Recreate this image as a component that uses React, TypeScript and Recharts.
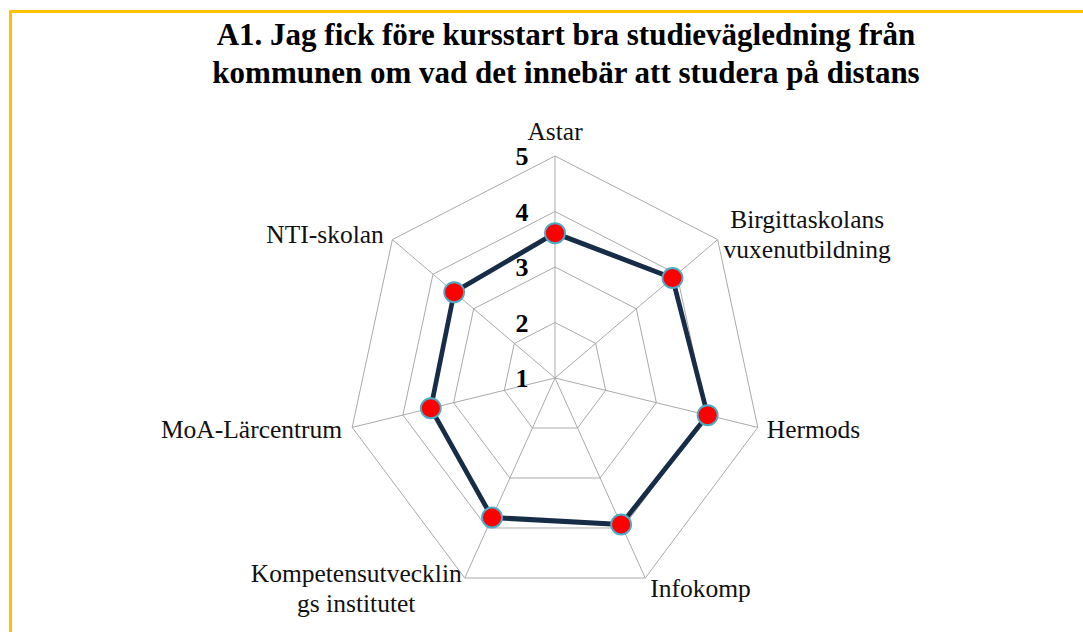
import React from "react";
import { RadarChart, Radar, PolarGrid, PolarAngleAxis, PolarRadiusAxis } from "recharts";

const categories = [
  "Astar",
  "Birgittaskolans vuxenutbildning",
  "Hermods",
  "Infokomp",
  "Kompetensutvecklings institutet",
  "MoA-Lärcentrum",
  "NTI-skolan",
];
const tickLabels = [
  ["Astar"],
  ["Birgittaskolans", "vuxenutbildning"],
  ["Hermods"],
  ["Infokomp"],
  ["Kompetensutvecklin", "gs institutet"],
  ["MoA-Lärcentrum"],
  ["NTI-skolan"],
];
const values = [3.61, 3.89, 4.01, 3.93, 3.79, 3.45, 3.48];
const radiusTicks = [1, 2, 3, 4, 5];
const titleLines = [
  "A1. Jag fick före kursstart bra studievägledning från",
  "kommunen om vad det innebär att studera på distans",
];

const data = categories.map((name, i) => ({ name, value: values[i] }));

const SX = 0.937;
const CX = 555 / SX;
const CY = 378;
const R = 222;
const FONT = '"Liberation Serif", "Times New Roman", serif';
const FS = 25.5;
const LH = 30;

let ctx: CanvasRenderingContext2D | null = null;
function measure(t: string): number {
  if (typeof document === "undefined") return t.length * FS * 0.45;
  if (!ctx) ctx = document.createElement("canvas").getContext("2d");
  if (!ctx) return t.length * FS * 0.45;
  ctx.font = `${FS}px "Liberation Serif"`;
  return ctx.measureText(t).width;
}

function AngleTick(props: any) {
  const { payload } = props;
  const idx = payload.index ?? categories.indexOf(payload.value);
  const ang = payload.coordinate;
  const rad = (-ang * Math.PI) / 180;
  const ux = Math.cos(rad);
  const uy = Math.sin(rad);
  const vx = CX + ux * R;
  const vy = CY + uy * R;
  const up = -uy;
  const lines: string[] = tickLabels[idx] || [String(payload.value)];
  let anchor: "start" | "end" | "middle" = "middle";
  let dxs = 0;
  let centerDy = 0;
  if (Math.abs(ux) < 0.1) {
    anchor = "middle";
    centerDy = up > 0 ? -25 : 12;
  } else if (up < -0.8) {
    anchor = ux > 0 ? "start" : "end";
    dxs = ux > 0 ? 5 : -3;
    centerDy = 10;
  } else {
    anchor = ux > 0 ? "start" : "end";
    dxs = ux > 0 ? (up > 0 ? 6 : 9) : up > 0 ? -8.5 : -10;
    centerDy = -8 * up;
  }
  const n = lines.length;
  let xPos = dxs;
  let ta: "start" | "end" | "middle" = anchor;
  if (n > 1 && anchor !== "middle") {
    const w = Math.max(...lines.map(measure));
    xPos = anchor === "start" ? dxs + w / 2 : dxs - w / 2;
    ta = "middle";
  }
  return (
    <g transform={`translate(${vx},${vy}) scale(${1 / SX},1)`}>
      {lines.map((l, i) => (
        <text
          key={i}
          x={xPos}
          y={centerDy + (i - (n - 1) / 2) * LH + FS * 0.34}
          textAnchor={ta}
          fontFamily={FONT}
          fontSize={FS}
          fill="#111"
        >
          {l}
        </text>
      ))}
    </g>
  );
}

function RadiusTick(props: any) {
  const { x, y, payload } = props;
  return (
    <g transform={`translate(${x},${y}) scale(${1 / SX},1)`}>
      <text
        x={-33}
        y={9}
        textAnchor="middle"
        fontFamily={FONT}
        fontWeight="bold"
        fontSize={26}
        fill="#000"
      >
        {payload.value}
      </text>
    </g>
  );
}

function Dot(props: any) {
  const { cx, cy } = props;
  if (cx == null || cy == null) return <g />;
  return (
    <ellipse
      cx={cx}
      cy={cy}
      rx={10 / SX}
      ry={10}
      fill="#FF0000"
      stroke="#4BACC6"
      strokeWidth={2}
    />
  );
}

export default function App() {
  return (
    <div
      style={{
        position: "absolute",
        left: 0,
        top: 0,
        width: 1083,
        height: 632,
        overflow: "hidden",
        background: "#fff",
      }}
    >
      <div
        style={{
          position: "absolute",
          left: 9,
          top: 10,
          width: 1200,
          height: 800,
          borderTop: "3px solid #FFC000",
          borderLeft: "3px solid #FFC000",
        }}
      />
      <div
        style={{
          position: "absolute",
          left: 0,
          top: 0,
          width: 1083 / SX,
          height: 632,
          transform: `scaleX(${SX})`,
          transformOrigin: "0 0",
        }}
      >
        <RadarChart
          width={Math.ceil(1083 / SX)}
          height={632}
          data={data}
          cx={CX}
          cy={CY}
          outerRadius={R}
          margin={{ top: 0, right: 0, bottom: 0, left: 0 }}
        >
          <PolarGrid gridType="polygon" stroke="#A6A6A6" strokeWidth={1} />
          <PolarAngleAxis dataKey="name" tick={AngleTick} tickLine={false} axisLine={false} />
          <PolarRadiusAxis
            angle={90}
            domain={[1, 5]}
            ticks={radiusTicks as any}
            tickCount={5}
            axisLine={false}
            tickLine={false}
            tick={RadiusTick}
          />
          <Radar
            dataKey="value"
            stroke="#172C47"
            strokeWidth={5}
            strokeLinejoin="round"
            fill="none"
            fillOpacity={0}
            dot={Dot}
            isAnimationActive={false}
          />
        </RadarChart>
      </div>
      <svg
        width={1083}
        height={632}
        style={{ position: "absolute", left: 0, top: 0, pointerEvents: "none" }}
      >
        {titleLines.map((t, i) => (
          <text
            key={i}
            x={566}
            y={45 + i * 38}
            textAnchor="middle"
            fontFamily={FONT}
            fontWeight="bold"
            fontSize={31}
            fill="#000"
          >
            {t}
          </text>
        ))}
      </svg>
    </div>
  );
}
